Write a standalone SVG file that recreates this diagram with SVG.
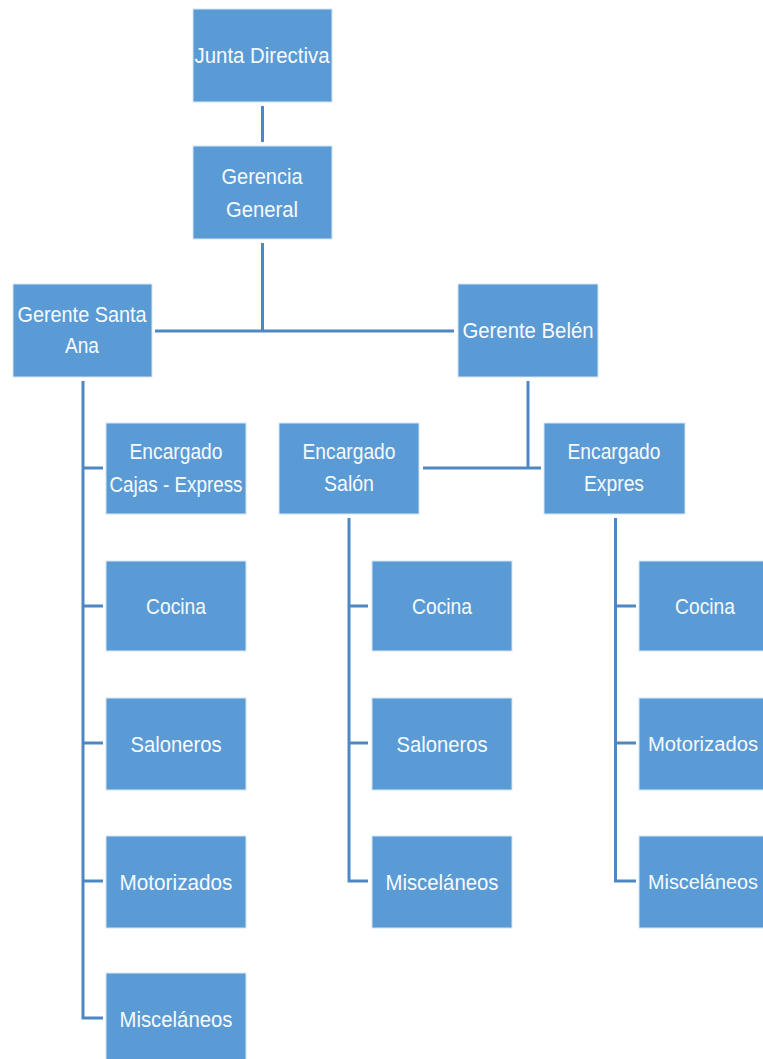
<svg xmlns="http://www.w3.org/2000/svg" width="763" height="1059" viewBox="0 0 763 1059">
<style>
.box{fill:#5B9BD5;stroke:#D6E5F4;stroke-width:1}
.t{font-family:"Liberation Sans Narrow","Liberation Sans",Arial,sans-serif;font-size:22px;fill:#F7FAFD;text-anchor:middle}
.s{font-size:20px}
.c{fill:none;stroke:#4F87C3;stroke-width:3}
</style>
<rect width="763" height="1059" fill="#FFFFFF"/>
<g id="connectors">
<path class="c" d="M262.5 106 V142"/>
<path class="c" d="M262.5 243 V331 M155 331 H454"/>
<path class="c" d="M528 381 V468 M423 468 H541"/>
<path class="c" d="M83 381 V1018 H103 M83 468 H103 M83 606 H103 M83 743 H103 M83 881 H103"/>
<path class="c" d="M349 518 V881 H368 M349 606 H368 M349 743 H368"/>
<path class="c" d="M615.5 518 V881 H636 M615.5 606 H636 M615.5 743 H636"/>
</g>
<g id="n-junta"><rect class="box" x="193" y="9" width="139" height="93"/><text class="t" x="262" y="63" textLength="135" lengthAdjust="spacingAndGlyphs">Junta Directiva</text></g>
<g id="n-gerencia"><rect class="box" x="193" y="146" width="139" height="93"/><text class="t" x="262" y="184" textLength="81" lengthAdjust="spacingAndGlyphs">Gerencia</text><text class="t" x="262" y="217" textLength="72" lengthAdjust="spacingAndGlyphs">General</text></g>
<g id="n-santaana"><rect class="box" x="13" y="284" width="139" height="93"/><text class="t" x="82" y="322" textLength="129" lengthAdjust="spacingAndGlyphs">Gerente Santa</text><text class="t" x="82" y="353" textLength="34" lengthAdjust="spacingAndGlyphs">Ana</text></g>
<g id="n-belen"><rect class="box" x="458" y="284" width="140" height="93"/><text class="t" x="528" y="338" textLength="131" lengthAdjust="spacingAndGlyphs">Gerente Belén</text></g>
<g id="n-cajas"><rect class="box" x="106" y="423" width="140" height="91"/><text class="t" x="176" y="459" textLength="93" lengthAdjust="spacingAndGlyphs">Encargado</text><text class="t" x="176" y="492" textLength="133" lengthAdjust="spacingAndGlyphs">Cajas - Express</text></g>
<g id="n-salon"><rect class="box" x="279" y="423" width="140" height="91"/><text class="t" x="349" y="459" textLength="93" lengthAdjust="spacingAndGlyphs">Encargado</text><text class="t" x="349" y="491" textLength="50" lengthAdjust="spacingAndGlyphs">Salón</text></g>
<g id="n-expres"><rect class="box" x="544" y="423" width="141" height="91"/><text class="t" x="614" y="459" textLength="93" lengthAdjust="spacingAndGlyphs">Encargado</text><text class="t" x="614" y="491" textLength="60" lengthAdjust="spacingAndGlyphs">Expres</text></g>
<g id="n-sa-cocina"><rect class="box" x="106" y="561" width="140" height="90"/><text class="t" x="176" y="614" textLength="60" lengthAdjust="spacingAndGlyphs">Cocina</text></g>
<g id="n-sa-saloneros"><rect class="box" x="106" y="698" width="140" height="92"/><text class="t" x="176" y="752" textLength="91" lengthAdjust="spacingAndGlyphs">Saloneros</text></g>
<g id="n-sa-motorizados"><rect class="box" x="106" y="836" width="140" height="92"/><text class="t" x="176" y="890" textLength="113" lengthAdjust="spacingAndGlyphs">Motorizados</text></g>
<g id="n-sa-miscelaneos"><rect class="box" x="106" y="973" width="140" height="92"/><text class="t" x="176" y="1027" textLength="113" lengthAdjust="spacingAndGlyphs">Misceláneos</text></g>
<g id="n-sl-cocina"><rect class="box" x="372" y="561" width="140" height="90"/><text class="t" x="442" y="614" textLength="60" lengthAdjust="spacingAndGlyphs">Cocina</text></g>
<g id="n-sl-saloneros"><rect class="box" x="372" y="698" width="140" height="92"/><text class="t" x="442" y="752" textLength="91" lengthAdjust="spacingAndGlyphs">Saloneros</text></g>
<g id="n-sl-miscelaneos"><rect class="box" x="372" y="836" width="140" height="92"/><text class="t" x="442" y="890" textLength="113" lengthAdjust="spacingAndGlyphs">Misceláneos</text></g>
<g id="n-ex-cocina"><rect class="box" x="639" y="561" width="140" height="90"/><text class="t" x="705" y="614" textLength="60" lengthAdjust="spacingAndGlyphs">Cocina</text></g>
<g id="n-ex-motorizados"><rect class="box" x="639" y="698" width="140" height="92"/><text class="t s" x="703" y="751" textLength="110" lengthAdjust="spacingAndGlyphs">Motorizados</text></g>
<g id="n-ex-miscelaneos"><rect class="box" x="639" y="836" width="140" height="92"/><text class="t s" x="703" y="889" textLength="110" lengthAdjust="spacingAndGlyphs">Misceláneos</text></g>
</svg>
